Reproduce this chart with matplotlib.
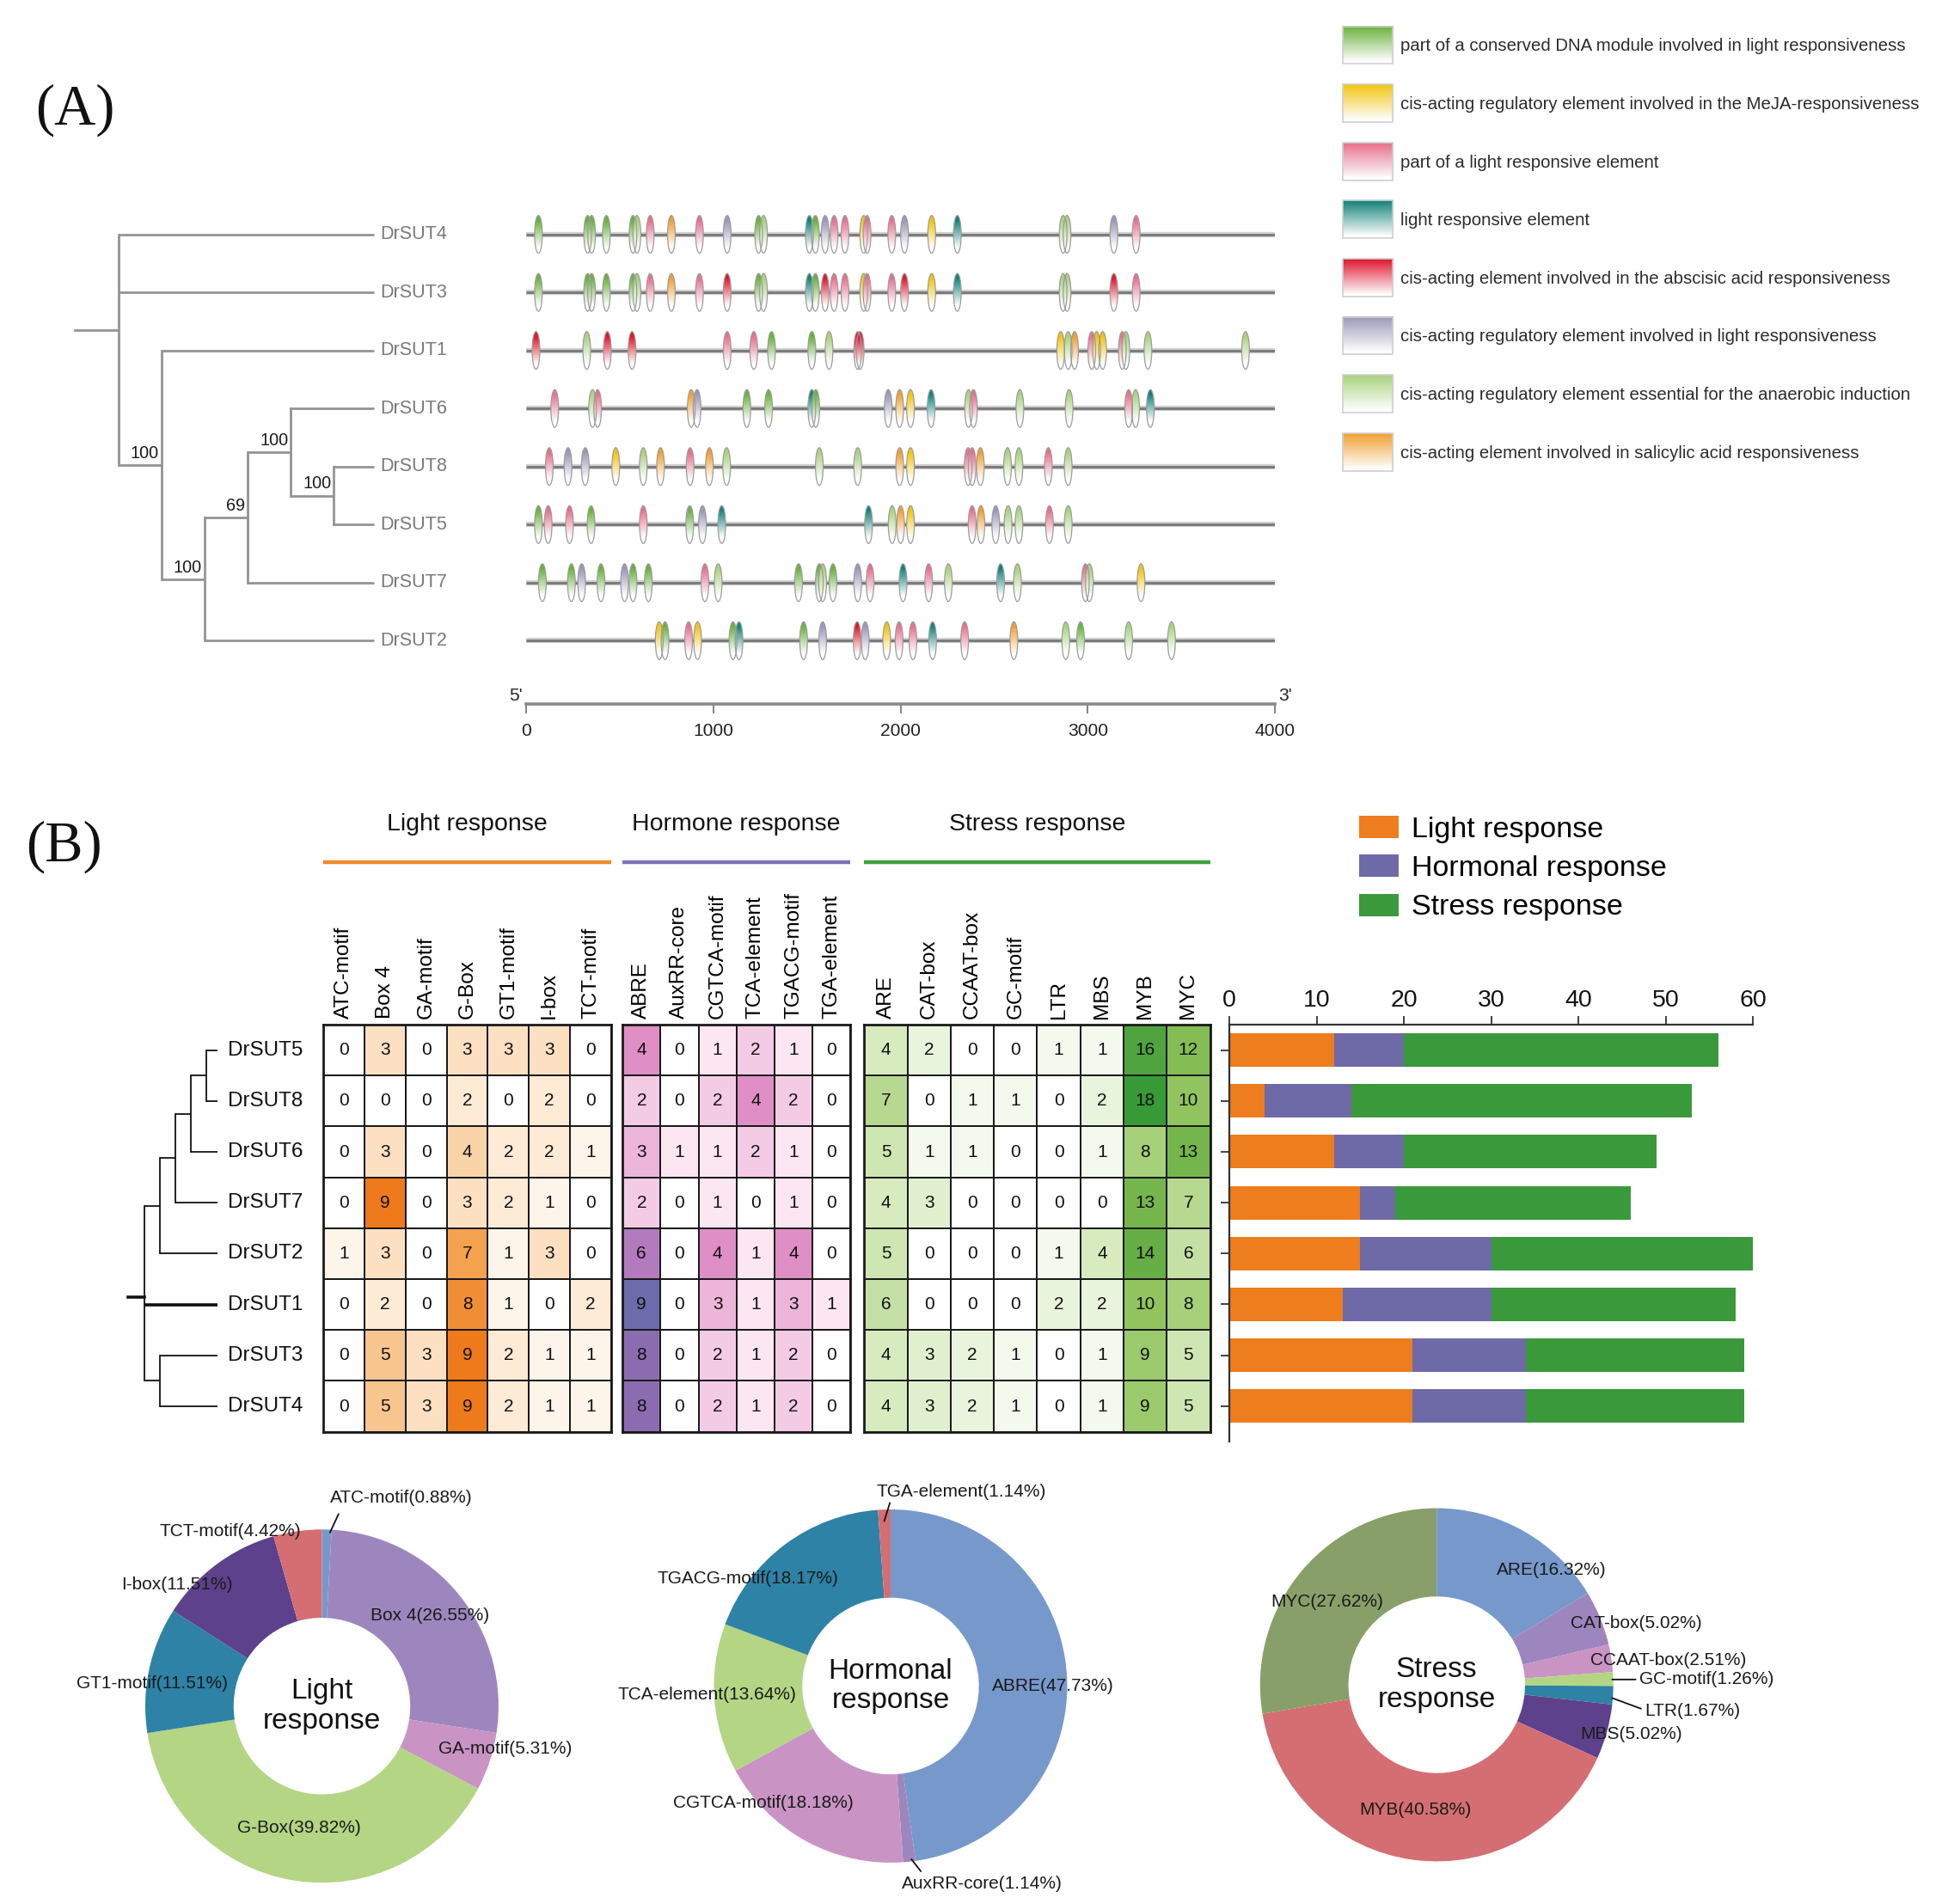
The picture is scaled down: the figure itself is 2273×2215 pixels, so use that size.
import numpy as np
import matplotlib
matplotlib.use("Agg")
import matplotlib.pyplot as plt
from matplotlib.patches import Ellipse, Patch
from matplotlib.colors import to_rgb, LinearSegmentedColormap
from matplotlib import font_manager

# ---------------- data: panel A ----------------
genes_a = ["DrSUT4", "DrSUT3", "DrSUT1", "DrSUT6", "DrSUT8", "DrSUT5", "DrSUT7", "DrSUT2"]

# tree: 'c' = children, 's' = bootstrap support
tree_a = {"c": ["DrSUT4", "DrSUT3",
                {"c": ["DrSUT1",
                       {"c": [{"c": [{"c": ["DrSUT6", {"c": ["DrSUT8", "DrSUT5"], "s": "100"}], "s": "100"},
                                     "DrSUT7"], "s": "69"},
                              "DrSUT2"], "s": "100"}], "s": "100"}]}

motif_names = [
    "part of a conserved DNA module involved in light responsiveness",
    "cis-acting regulatory element involved in the MeJA-responsiveness",
    "part of a light responsive element",
    "light responsive element",
    "cis-acting element involved in the abscisic acid responsiveness",
    "cis-acting regulatory element involved in light responsiveness",
    "cis-acting regulatory element essential for the anaerobic induction",
    "cis-acting element involved in salicylic acid responsiveness",
]
motif_codes = ["G", "Y", "P", "T", "R", "L", "LG", "O"]
motif_colors = ["#6ab23c", "#f2c40f", "#e8708e", "#13837a", "#e0162f", "#9b98b8", "#a9d37f", "#f0a030"]

motif_pos = {
    "DrSUT4": [66, 329, 350, 429, 571, 592, 663, 776, 926, 1074, 1242, 1268, 1513, 1545, 1597, 1645, 1703,
               1803, 1821, 1953, 2021, 2166, 2303, 2868, 2889, 3139, 3258],
    "DrSUT3": [66, 329, 350, 429, 571, 592, 663, 776, 926, 1074, 1242, 1268, 1513, 1545, 1597, 1645, 1703,
               1803, 1821, 1953, 2021, 2166, 2303, 2868, 2889, 3139, 3258],
    "DrSUT1": [53, 324, 434, 566, 1074, 1216, 1311, 1526, 1618, 1771, 1784, 2855, 2895, 2929, 3021, 3047,
               3079, 3184, 3203, 3321, 3842],
    "DrSUT6": [153, 355, 382, 882, 913, 1179, 1295, 1526, 1547, 1934, 1995, 2053, 2163, 2363, 2389, 2637,
               2900, 3218, 3255, 3334],
    "DrSUT8": [124, 224, 316, 479, 626, 718, 876, 979, 1071, 1566, 1771, 1995, 2053, 2361, 2382, 2426,
               2571, 2632, 2789, 2895],
    "DrSUT5": [66, 118, 232, 347, 626, 874, 942, 1045, 1829, 1955, 2000, 2053, 2382, 2429, 2508, 2574,
               2632, 2795, 2895],
    "DrSUT7": [87, 242, 297, 400, 526, 571, 653, 955, 1026, 1455, 1566, 1584, 1639, 1771, 1837, 2013, 2150,
               2255, 2534, 2624, 2987, 3008, 3284],
    "DrSUT2": [711, 742, 868, 916, 1105, 1137, 1482, 1584, 1768, 1811, 1926, 1992, 2066, 2171, 2342, 2605,
               2882, 2961, 3218, 3447],
}
motif_kind = {
    "DrSUT4": "G G G G G LG P O P L G LG T G L P P Y P P L Y T LG LG L P".split(),
    "DrSUT3": "G G G G G LG P O P R G LG T G R P P Y P P R Y T LG LG R P".split(),
    "DrSUT1": "R LG R R P P G G LG R R Y LG O P Y Y P LG LG LG".split(),
    "DrSUT6": "P LG P O L G G T G L O Y T LG P LG LG P LG T".split(),
    "DrSUT8": "P L L Y LG O P O LG LG LG O Y P P O LG LG P LG".split(),
    "DrSUT5": "G P P G P G L T T LG O Y P O L LG LG P LG".split(),
    "DrSUT7": "G G L G L G G P LG G G LG G L P T P LG T LG P LG Y".split(),
    "DrSUT2": "Y G P Y G T G L R L Y P P T P O LG G LG LG".split(),
}
scale_ticks = [0, 1000, 2000, 3000, 4000]

# ---------------- data: panel B ----------------
genes_b = ["DrSUT5", "DrSUT8", "DrSUT6", "DrSUT7", "DrSUT2", "DrSUT1", "DrSUT3", "DrSUT4"]
tree_b = {"c": [{"c": [{"c": [{"c": [{"c": ["DrSUT5", "DrSUT8"]}, "DrSUT6"]}, "DrSUT7"]}, "DrSUT2"]},
                "DrSUT1", {"c": ["DrSUT3", "DrSUT4"]}]}

light_cols = ["ATC-motif", "Box 4", "GA-motif", "G-Box", "GT1-motif", "I-box", "TCT-motif"]
hormone_cols = ["ABRE", "AuxRR-core", "CGTCA-motif", "TCA-element", "TGACG-motif", "TGA-element"]
stress_cols = ["ARE", "CAT-box", "CCAAT-box", "GC-motif", "LTR", "MBS", "MYB", "MYC"]

light_counts = np.array([
    [0, 3, 0, 3, 3, 3, 0],
    [0, 0, 0, 2, 0, 2, 0],
    [0, 3, 0, 4, 2, 2, 1],
    [0, 9, 0, 3, 2, 1, 0],
    [1, 3, 0, 7, 1, 3, 0],
    [0, 2, 0, 8, 1, 0, 2],
    [0, 5, 3, 9, 2, 1, 1],
    [0, 5, 3, 9, 2, 1, 1],
])
hormone_counts = np.array([
    [4, 0, 1, 2, 1, 0],
    [2, 0, 2, 4, 2, 0],
    [3, 1, 1, 2, 1, 0],
    [2, 0, 1, 0, 1, 0],
    [6, 0, 4, 1, 4, 0],
    [9, 0, 3, 1, 3, 1],
    [8, 0, 2, 1, 2, 0],
    [8, 0, 2, 1, 2, 0],
])
stress_counts = np.array([
    [4, 2, 0, 0, 1, 1, 16, 12],
    [7, 0, 1, 1, 0, 2, 18, 10],
    [5, 1, 1, 0, 0, 1, 8, 13],
    [4, 3, 0, 0, 0, 0, 13, 7],
    [5, 0, 0, 0, 1, 4, 14, 6],
    [6, 0, 0, 0, 2, 2, 10, 8],
    [4, 3, 2, 1, 0, 1, 9, 5],
    [4, 3, 2, 1, 0, 1, 9, 5],
])
group_titles = ["Light response", "Hormone response", "Stress response"]
bar_labels = ["Light response", "Hormonal response", "Stress response"]
bar_colors = ["#ee7d1e", "#6e6aa8", "#3a993a"]

light_pct = [0.88, 26.55, 5.31, 39.82, 11.51, 11.51, 4.42]
hormone_pct = [47.73, 1.14, 18.18, 13.64, 18.17, 1.14]
stress_pct = [16.32, 5.02, 2.51, 1.26, 1.67, 5.02, 40.58, 27.62]

pie_blue, pie_lav, pie_pink, pie_lg = "#7798cb", "#9d86bd", "#c993c4", "#b4d584"
pie_teal, pie_dp, pie_red, pie_olive = "#2d82a6", "#5d418c", "#d46e72", "#889f69"

# ---------------- fonts ----------------
names = {f.name for f in font_manager.fontManager.ttflist}
if "Liberation Sans Narrow" in names:
    narrow, nscale = "Liberation Sans Narrow", 1.0
else:
    narrow, nscale = "Liberation Sans", 0.84
sans = "Liberation Sans"
serif = "Liberation Serif"

W, H = 1560.0, 1520.0
fig = plt.figure(figsize=(22.73, 22.15), dpi=100)


def add_ax(x0, y0, x1, y1):
    a = fig.add_axes([x0 / W, 1 - y1 / H, (x1 - x0) / W, (y1 - y0) / H])
    a.set_facecolor("none")
    return a


def gradient(color, n=80, start=0.12, end=0.85):
    rgb = np.array(to_rgb(color))
    t = np.linspace(0, 1, n)
    s = np.clip((t - start) / (end - start), 0, 1)
    img = rgb[None, :] * (1 - s[:, None]) + s[:, None]
    return img[:, None, :]


def place_tree(node, leaf_y, depth=0):
    if isinstance(node, str):
        return leaf_y[node]
    ys = [place_tree(c, leaf_y, depth + 1) for c in node["c"]]
    node["y"] = float(np.mean(ys))
    node["d"] = depth
    return node["y"]


def draw_tree(ax, node, leaf_y, leaf_d, color, lw, thick=(), sup_kw=None):
    ys = []
    for c in node["c"]:
        if isinstance(c, str):
            cy, cd = leaf_y[c], leaf_d
            clw = lw * 2 if c in thick else lw
        else:
            cy, cd = c["y"], c["d"]
            clw = lw
            draw_tree(ax, c, leaf_y, leaf_d, color, lw, thick, sup_kw)
            if sup_kw is not None and c.get("s"):
                ax.text(cd - 0.06, cy - 0.06, c["s"], ha="right", va="bottom", **sup_kw)
        ax.plot([node["d"], cd], [cy, cy], color=color, lw=clw, solid_capstyle="butt")
        ys.append(cy)
    ax.plot([node["d"], node["d"]], [min(ys), max(ys)], color=color, lw=lw, solid_capstyle="projecting")


# ================= panel A =================
row_top, row_bot = -0.80, 8.09
ax_t = add_ax(40, 150, 420, 562)
leaf_y_a = {g: i for i, g in enumerate(genes_a)}
place_tree(tree_a, leaf_y_a)
draw_tree(ax_t, tree_a, leaf_y_a, 5.93, "#949494", 2.0,
          sup_kw=dict(fontsize=17 * nscale, family=narrow, color="#1a1a1a"))
ax_t.plot([-1.01, 0], [tree_a["y"]] * 2, color="#949494", lw=2.0)
for g, y in leaf_y_a.items():
    ax_t.text(6.08, y, g, ha="left", va="center", fontsize=18.5 * nscale, family=narrow, color="#7a7a7a")
ax_t.set_xlim(-1.587, 9.459)
ax_t.set_ylim(row_bot, row_top)
ax_t.axis("off")

ax_g = add_ax(420, 150, 1018, 562)
ax_g.hlines(range(len(genes_a)), 0, 4000, color="#d2d2d2", lw=4.5, zorder=1)
ax_g.hlines(range(len(genes_a)), 0, 4000, color="#7c7c7c", lw=2.2, zorder=2)
mw, mh = 41, 0.65
for i, g in enumerate(genes_a):
    for p, k in zip(motif_pos[g], motif_kind[g]):
        col = motif_colors[motif_codes.index(k)]
        ell = Ellipse((p, i), mw, mh, facecolor="none", edgecolor="#9c9c9c", lw=0.9, zorder=4)
        ax_g.add_patch(ell)
        im = ax_g.imshow(gradient(col), extent=(p - mw / 2, p + mw / 2, i + mh / 2, i - mh / 2),
                         aspect="auto", interpolation="bilinear", zorder=3)
        im.set_clip_path(ell)
ax_g.set_xlim(0, 4000)
ax_g.set_ylim(row_bot, row_top)
for s in ["top", "left", "right"]:
    ax_g.spines[s].set_visible(False)
ax_g.spines["bottom"].set_color("#8a8a8a")
ax_g.spines["bottom"].set_linewidth(2.6)
ax_g.set_yticks([])
ax_g.set_xticks(scale_ticks)
ax_g.set_xticklabels([str(t) for t in scale_ticks], family=narrow, fontsize=18 * nscale, color="#222222")
ax_g.tick_params(axis="x", length=8, width=1.3, color="#7a7a7a", pad=8)
ax_g.annotate("5'", xy=(0, 0), xycoords="axes fraction", xytext=(-3, 7), textcoords="offset points",
              ha="right", va="center", fontsize=18 * nscale, family=narrow, color="#222222")
ax_g.annotate("3'", xy=(1, 0), xycoords="axes fraction", xytext=(3, 7), textcoords="offset points",
              ha="left", va="center", fontsize=18 * nscale, family=narrow, color="#222222")

# ================= panel B: heatmaps =================
hm_top, hm_bot = 818, 1143
group_x = [(258, 488), (497, 679), (690, 966)]
cmap_light = LinearSegmentedColormap.from_list("cl", [(0, "#ffffff"), (0.12, "#fef4e8"), (0.33, "#fce0c2"),
                                                      (0.55, "#f8c691"), (0.78, "#f4a24f"), (1, "#ee7a1c")])
cmap_horm = LinearSegmentedColormap.from_list("ch", [(0, "#ffffff"), (0.11, "#fbe6f2"), (0.22, "#f4cbe5"),
                                                     (0.33, "#ecb6da"), (0.44, "#e08ec6"), (0.67, "#b27bbd"),
                                                     (0.89, "#8b6cb0"), (1, "#6b6ca9")])
cmap_stress = LinearSegmentedColormap.from_list("cs", [(0, "#ffffff"), (0.056, "#f3f9ec"), (0.11, "#e9f4dd"),
                                                       (0.22, "#d7ebbf"), (0.33, "#c6e1a5"), (0.44, "#a7d07b"),
                                                       (0.56, "#90c45e"), (0.67, "#83bd53"), (0.78, "#66ae45"),
                                                       (0.89, "#4fa43f"), (1, "#379a37")])
groups = [(light_counts, light_cols, cmap_light, 9),
          (hormone_counts, hormone_cols, cmap_horm, 9),
          (stress_counts, stress_cols, cmap_stress, 18)]
for (data, cols, cm, vmax), (x0, x1) in zip(groups, group_x):
    ax = add_ax(x0, hm_top, x1, hm_bot)
    nr, nc = data.shape
    ax.pcolormesh(np.arange(nc + 1), np.arange(nr + 1), data, cmap=cm, vmin=0, vmax=vmax,
                  edgecolors="#1a1a1a", linewidth=1.3)
    for i in range(nr):
        for j in range(nc):
            ax.text(j + 0.5, i + 0.5, str(data[i, j]), ha="center", va="center", fontsize=15,
                    family=sans, color="#111111")
    ax.set_xlim(0, nc)
    ax.set_ylim(nr, 0)
    ax.xaxis.tick_top()
    ax.set_xticks(np.arange(nc) + 0.5)
    ax.set_xticklabels(cols, rotation=90, family=sans, fontsize=17.5)
    ax.tick_params(axis="x", length=0, pad=5)
    ax.set_yticks([])
    for s in ax.spines.values():
        s.set_linewidth(2.0)
        s.set_color("#1a1a1a")

# tree B
ax_tb = add_ax(95, hm_top, 258, hm_bot)
leaf_y_b = {g: i + 0.5 for i, g in enumerate(genes_b)}
place_tree(tree_b, leaf_y_b)
draw_tree(ax_tb, tree_b, leaf_y_b, 4.72, "#111111", 1.3, thick=("DrSUT1",))
ax_tb.plot([-1.1, 0], [tree_b["y"]] * 2, color="#111111", lw=2.6)
for g, y in leaf_y_b.items():
    ax_tb.text(5.4, y, g, ha="left", va="center", fontsize=17.5, family=sans, color="#111111")
ax_tb.set_xlim(-1.67, 11.59)
ax_tb.set_ylim(len(genes_b), 0)
ax_tb.axis("off")

# stacked bars
light_sum = light_counts.sum(axis=1)
horm_sum = hormone_counts.sum(axis=1)
stress_sum = stress_counts.sum(axis=1)
ax_b = add_ax(981.5, hm_top, 1399.5, 1151)
yb = np.arange(len(genes_b)) + 0.5
lefts = np.zeros(len(genes_b))
for vals, col, lab in zip([light_sum, horm_sum, stress_sum], bar_colors, bar_labels):
    ax_b.barh(yb, vals, left=lefts, height=0.66, color=col, label=lab)
    lefts = lefts + vals
ax_b.set_xlim(0, 60)
ax_b.set_ylim(len(genes_b) + 0.2, 0)
ax_b.xaxis.tick_top()
ax_b.set_xticks(range(0, 61, 10))
ax_b.set_xticklabels([str(v) for v in range(0, 61, 10)], family=sans, fontsize=20.5, color="#111111")
ax_b.set_yticks(yb)
ax_b.set_yticklabels([])
ax_b.tick_params(axis="both", length=7, width=1.3, color="#333333", direction="out")
ax_b.tick_params(axis="x", pad=4)
for s in ["right", "bottom"]:
    ax_b.spines[s].set_visible(False)
for s in ["top", "left"]:
    ax_b.spines[s].set_linewidth(1.6)
    ax_b.spines[s].set_color("#333333")
handles = [Patch(facecolor=c, label=l) for c, l in zip(bar_colors, bar_labels)]
fig.legend(handles=handles, loc="upper left", bbox_to_anchor=(1085 / W, 1 - 651 / H),
           bbox_transform=fig.transFigure, frameon=False, prop=dict(family=sans, size=24.5),
           handlelength=1.35, handleheight=0.8, labelspacing=0.4, handletextpad=0.45,
           borderpad=0, borderaxespad=0)

# ================= panel B: donut pies =================
pies = [
    (light_pct, light_cols, [pie_blue, pie_lav, pie_pink, pie_lg, pie_teal, pie_dp, pie_red],
     (257, 1362), "Light\nresponse",
     [(0.45, 1.18), (0.61, 0.51), (1.04, -0.24), (-0.13, -0.69), (-0.96, 0.13), (-0.82, 0.69), (-0.52, 0.99)],
     {0: (0.04, 0.97, 0.10, 1.10)}),
    (hormone_pct, hormone_cols, [pie_blue, pie_lav, pie_pink, pie_lg, pie_teal, pie_red],
     (711, 1346), "Hormonal\nresponse",
     [(0.92, 0.0), (0.52, -1.12), (-0.72, -0.66), (-1.04, -0.05), (-0.81, 0.61), (0.40, 1.10)],
     {1: (0.11, -0.97, 0.18, -1.06), 5: (-0.04, 0.92, 0.0, 1.05)}),
    (stress_pct, stress_cols, [pie_blue, pie_lav, pie_pink, pie_lg, pie_teal, pie_dp, pie_red, pie_olive],
     (1147, 1345), "Stress\nresponse",
     [(0.65, 0.65), (1.13, 0.35), (1.31, 0.14), (1.53, 0.03), (1.45, -0.15), (1.10, -0.28), (-0.12, -0.71),
      (-0.62, 0.47)],
     {3: (0.98, 0.03, 1.14, 0.03), 4: (0.98, -0.07, 1.17, -0.14)}),
]
R = 141
for pct, labs, cols, (cx, cy), title, lpos, leaders in pies:
    ax = add_ax(cx - 2.1 * R, cy - 2.1 * R, cx + 2.1 * R, cy + 2.1 * R)
    ax.pie(pct, colors=cols, startangle=90, counterclock=False, radius=1,
           wedgeprops=dict(width=0.5, linewidth=0))
    ax.set_xlim(-2.1, 2.1)
    ax.set_ylim(-2.1, 2.1)
    ax.set_aspect("equal")
    ax.axis("off")
    ax.text(0, 0, title, ha="center", va="center", fontsize=24, family=sans, color="#111111",
            linespacing=1.15)
    for k, (lab, v, (tx, ty)) in enumerate(zip(labs, pct, lpos)):
        ax.text(tx, ty, f"{lab}({v:.2f}%)", ha="center", va="center", fontsize=15, family=sans,
                color="#1a1a1a")
        if k in leaders:
            x0, y0, x1, y1 = leaders[k]
            ax.annotate("", xy=(x0, y0), xytext=(x1, y1),
                        arrowprops=dict(arrowstyle="-", color="#111111", lw=1.3))

# ================= overlay: labels, headers, legend A =================
ov = add_ax(0, 0, W, H)
ov.set_xlim(0, W)
ov.set_ylim(H, 0)
ov.axis("off")
ov.text(60, 88, "(A)", ha="center", va="center", fontsize=48, family=serif, color="#111111")
ov.text(51, 676, "(B)", ha="center", va="center", fontsize=48, family=serif, color="#111111")
for title, (x0, x1), col in zip(group_titles, group_x, ["#f08a2c", "#7d74b8", "#3ea23e"]):
    ov.text((x0 + x1) / 2, 658, title, ha="center", va="center", fontsize=20.5, family=sans, color="#111111")
    ov.plot([x0, x1], [688, 688], color=col, lw=3.2, solid_capstyle="butt")

for k, (name, col) in enumerate(zip(motif_names, motif_colors)):
    yc = 36 + 46.4 * k
    ov.imshow(gradient(col, start=0.0, end=0.95), extent=(1072, 1112, yc + 15, yc - 15), aspect="auto",
              interpolation="bilinear", zorder=2)
    ov.add_patch(plt.Rectangle((1072, yc - 15), 40, 30, fill=False, edgecolor="#cfcfcf", lw=1.2, zorder=3))
    ov.text(1118, yc + 1, name, ha="left", va="center", fontsize=17.5 * nscale, family=narrow, color="#2b2b2b")
ov.set_xlim(0, W)
ov.set_ylim(H, 0)

fig.savefig("out.png", dpi=100)
